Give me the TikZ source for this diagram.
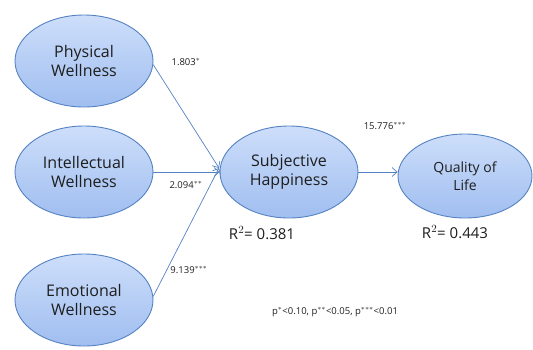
\documentclass[tikz,border=0pt]{standalone}
\usepackage{fontspec}
\setmainfont{Open Sans}
\usetikzlibrary{shapes.geometric,arrows.meta}
\definecolor{edgeblue}{RGB}{85,130,195}
\definecolor{filltop}{RGB}{205,222,250}
\definecolor{fillbot}{RGB}{160,190,240}
\definecolor{txt}{RGB}{30,30,30}
\tikzset{
  construct/.style={ellipse, draw=edgeblue, line width=0.9pt, top color=filltop, bottom color=fillbot,
    minimum width=138pt, minimum height=92pt, inner sep=0pt, align=center,
    font=\fontsize{16}{19}\selectfont, text=txt},
  path/.style={draw=edgeblue, line width=0.7pt, -{Straight Barb[length=5pt,width=9pt]}},
  coef/.style={font=\fontsize{9.5}{11}\selectfont, text=txt},
  rsq/.style={font=\fontsize{15}{17}\selectfont, text=txt}
}
\begin{document}
\begin{tikzpicture}[x=1pt,y=-1pt]
\useasboundingbox (0,0) rectangle (533,349);
\node[construct] (phys) at (84,61) {Physical\\Wellness};
\node[construct] (intel) at (84,172) {Intellectual\\Wellness};
\node[construct] (emo) at (84,300) {Emotional\\Wellness};
\node[construct] (subj) at (289,172) {Subjective\\Happiness};
\node[construct, minimum width=134pt, minimum height=84pt, font=\fontsize{14}{18}\selectfont] (qol) at (465,176) {Quality of\\Life};
\coordinate (conv) at (219,168);
\draw[path] (phys.-3) -- (conv);
\draw[path] (intel.east) -- (subj.west);
\draw[path] (emo.3) -- (conv);
\draw[path] (subj.east) -- (qol.west |- subj.east);
\node[coef] (c1) at (186,62) {1.803$^{*}$};
\node[coef] (c2) at (186,185) {2.094$^{**}$};
\node[coef] (c3) at (189,270) {9.139$^{***}$};
\node[coef] (c4) at (385,126) {15.776$^{***}$};
\node[rsq] (r1) at (262,233) {R$^{2}$= 0.381};
\node[rsq] (r2) at (455,232) {R$^{2}$= 0.443};
\node[coef] (note) at (335,312) {p$^{*}$<0.10, p$^{**}$<0.05, p$^{***}$<0.01};
\end{tikzpicture}
\end{document}
